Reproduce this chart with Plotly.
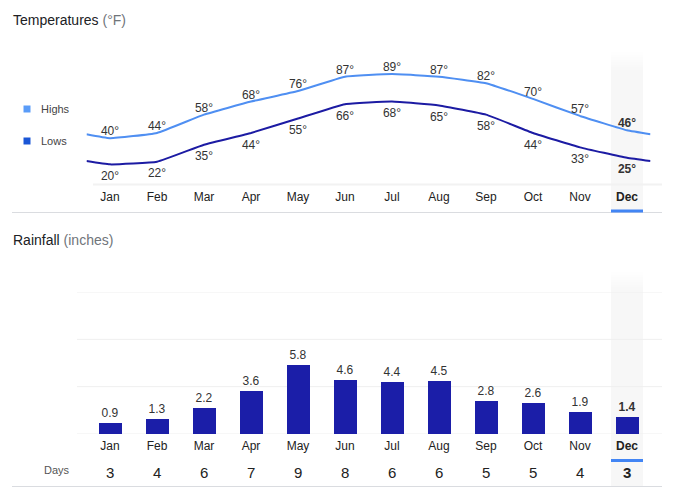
import plotly.graph_objects as go

months = ["Jan", "Feb", "Mar", "Apr", "May", "Jun", "Jul", "Aug", "Sep", "Oct", "Nov", "Dec"]
highs = [40, 44, 58, 68, 76, 87, 89, 87, 82, 70, 57, 46]
lows = [20, 22, 35, 44, 55, 66, 68, 65, 58, 44, 33, 25]
# where the lines run off the left / right edge of the chart
high_edges = [43, 43]
low_edges = [22.5, 22.5]
rainfall = [0.9, 1.3, 2.2, 3.6, 5.8, 4.6, 4.4, 4.5, 2.8, 2.6, 1.9, 1.4]
rain_days = [3, 4, 6, 7, 9, 8, 6, 6, 5, 5, 4, 3]

W, H = 675, 493
FONT = "Arial, Liberation Sans, sans-serif"
HI_COLOR = "#4f8ff2"
LO_COLOR = "#1c1ba3"
BAR_COLOR = "#1b1ea8"


def px(x):
    return x / W


def py(y):
    return 1 - y / H


def bold_last(labels):
    return [("<b>%s</b>" % t) if i == len(labels) - 1 else t for i, t in enumerate(labels)]


xs = list(range(len(months)))
line_x = [-0.5] + xs + [11.5]

fig = go.Figure()

fig.add_trace(go.Scatter(
    x=line_x, y=[high_edges[0]] + highs + [high_edges[1]],
    mode="lines", line=dict(color=HI_COLOR, width=2, shape="spline", smoothing=0.35),
    hoverinfo="skip", showlegend=False,
))
fig.add_trace(go.Scatter(
    x=xs, y=highs, mode="text", text=bold_last(["%d°" % v for v in highs]),
    textposition="top center", textfont=dict(size=12, color="#333", family=FONT),
    showlegend=False, cliponaxis=False,
))
fig.add_trace(go.Scatter(
    x=line_x, y=[low_edges[0]] + lows + [low_edges[1]],
    mode="lines", line=dict(color=LO_COLOR, width=2, shape="spline", smoothing=0.35),
    hoverinfo="skip", showlegend=False,
))
fig.add_trace(go.Scatter(
    x=xs, y=lows, mode="markers+text", text=bold_last(["%d°" % v for v in lows]),
    marker=dict(size=9, color="rgba(0,0,0,0)"),
    textposition="bottom center", textfont=dict(size=12, color="#333", family=FONT),
    showlegend=False, cliponaxis=False,
))

fig.add_trace(go.Bar(
    x=xs, y=rainfall, width=0.51, marker=dict(color=BAR_COLOR, line=dict(width=0)),
    text=bold_last(["%.1f" % v for v in rainfall]), textposition="outside",
    textfont=dict(size=12, color="#333", family=FONT), cliponaxis=False,
    xaxis="x2", yaxis="y2", showlegend=False,
))

xdom = [px(86.5), px(650.5)]
axis_common = dict(
    range=[-0.5, 11.5], domain=xdom, tickmode="array", tickvals=xs,
    ticktext=bold_last(months), showgrid=False, zeroline=False, showline=False,
    ticks="", tickfont=dict(size=12, color="#222", family=FONT), fixedrange=True,
)

shapes = []
annotations = []

# highlighted December column, with a soft fade at its top
for top, bottom in [(52, 212), (272, 486)]:
    steps = 8
    for i in range(steps):
        shapes.append(dict(
            type="rect", xref="paper", yref="paper", layer="below",
            x0=px(611), x1=px(643), y0=py(bottom), y1=py(top + i * 2.5),
            fillcolor="rgba(235,235,235,%.3f)" % (0.6 / steps), line=dict(width=0),
        ))

# rainfall grid
for v in [0, 4, 8, 12]:
    shapes.append(dict(
        type="line", xref="paper", yref="y2", layer="below",
        x0=px(77), x1=px(662), y0=v, y1=v, line=dict(color="#efefef", width=1),
    ))

# temperature base band
shapes.append(dict(type="line", xref="paper", yref="paper", layer="below",
                   x0=px(93), x1=px(662), y0=py(184.5), y1=py(184.5),
                   line=dict(color="#f2f2f2", width=2)))

# separators and the blue marker under December
for y in [212.5, 486.5]:
    shapes.append(dict(type="line", xref="paper", yref="paper",
                       x0=px(12), x1=px(662), y0=py(y), y1=py(y),
                       line=dict(color="#dadce0", width=1)))
for y in [209.5, 459]:
    shapes.append(dict(type="rect", xref="paper", yref="paper",
                       x0=px(611), x1=px(643), y0=py(y + 3), y1=py(y),
                       fillcolor="#4285f4", line=dict(width=0)))

# legend
for name, color, y in [("Highs", "#5a9cf8", 109), ("Lows", "#1a56d6", 141)]:
    shapes.append(dict(type="rect", xref="paper", yref="paper",
                       x0=px(23.5), x1=px(30.5), y0=py(y + 3.5), y1=py(y - 3.5),
                       fillcolor=color, line=dict(width=0)))
    annotations.append(dict(text=name, xref="paper", yref="paper", x=px(39), y=py(y),
                            xanchor="left", yanchor="middle", showarrow=False,
                            font=dict(size=11, color="#444", family=FONT)))

annotations.append(dict(
    text="Temperatures <span style='color:#70757a'>(°F)</span>",
    xref="paper", yref="paper", x=px(11), y=py(20), xanchor="left", yanchor="middle",
    showarrow=False, font=dict(size=14, color="#202124", family=FONT)))
annotations.append(dict(
    text="Rainfall <span style='color:#70757a'>(inches)</span>",
    xref="paper", yref="paper", x=px(11), y=py(240), xanchor="left", yanchor="middle",
    showarrow=False, font=dict(size=14, color="#202124", family=FONT)))

annotations.append(dict(text="Days", xref="paper", yref="paper", x=px(57), y=py(470),
                        xanchor="center", yanchor="middle", showarrow=False,
                        font=dict(size=11, color="#555", family=FONT)))
for i, d in enumerate(bold_last([str(v) for v in rain_days])):
    annotations.append(dict(text=d, xref="x2", yref="paper", x=i, y=py(472),
                            xanchor="center", yanchor="middle", showarrow=False,
                            font=dict(size=15, color="#222", family=FONT)))

fig.update_layout(
    width=W, height=H, margin=dict(l=0, r=0, t=0, b=0),
    paper_bgcolor="white", plot_bgcolor="rgba(0,0,0,0)",
    xaxis=dict(anchor="y", ticklabelstandoff=4, **axis_common),
    xaxis2=dict(anchor="y2", ticklabelstandoff=3, **axis_common),
    yaxis=dict(range=[5, 115], domain=[py(184), py(40)], visible=False, fixedrange=True),
    yaxis2=dict(range=[0, 12], domain=[py(434), py(292)], visible=False, fixedrange=True),
    shapes=shapes, annotations=annotations, showlegend=False, bargap=0,
)

fig.write_html("out.html", config={"displayModeBar": False},
               post_script="document.body.style.margin = '0';")
